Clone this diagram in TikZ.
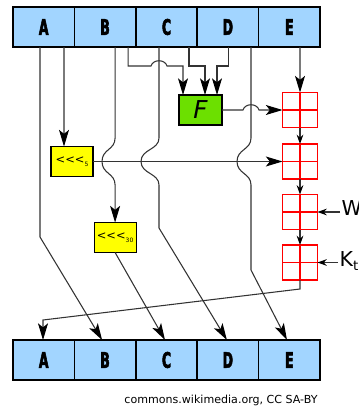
\documentclass[tikz,border=0pt]{standalone}
\usepackage{fontspec}
\setmainfont{DejaVu Sans}
\newfontfamily\regfont{DejaVu Sans}[FakeStretch=0.58, BoldFeatures={FakeBold=2.5}]
\usetikzlibrary{arrows.meta, positioning, calc}
\definecolor{regblue}{HTML}{A2D5FF}
\definecolor{fgreen}{HTML}{6CE000}
\definecolor{rotyellow}{HTML}{FFFF00}

\begin{document}
\begin{tikzpicture}[x=0.75pt, y=-0.75pt,
  reg/.style={rectangle, draw, line width=1.1pt, fill=regblue, minimum width=46.05pt, minimum height=30pt, outer sep=0pt, inner sep=0pt, font=\regfont\bfseries\fontsize{16pt}{17pt}\selectfont},
  fbox/.style={rectangle, draw, line width=0.9pt, fill=fgreen, minimum width=32.25pt, minimum height=22.5pt, outer sep=0pt, font=\itshape\fontsize{18.5pt}{19pt}\selectfont},
  rotbox/.style={rectangle, draw, line width=0.9pt, fill=rotyellow, minimum width=31.5pt, minimum height=22.5pt, outer sep=0pt, inner sep=0pt, font=\fontsize{8.6pt}{9pt}\selectfont},
  adder/.style={rectangle, draw=red, line width=1.3pt, fill=white, minimum size=26.25pt, outer sep=0pt,
    path picture={\draw[red, line width=1.3pt] (path picture bounding box.north) -- (path picture bounding box.south)
      (path picture bounding box.west) -- (path picture bounding box.east);}},
  lbl/.style={inner sep=1pt, font=\fontsize{15.4pt}{16pt}\selectfont},
  conn/.style={draw=black!80, line width=0.8pt},
  barrow/.style={conn, -{Stealth[length=12.5pt, width=7.5pt, inset=3pt, color=black]}},
  sarrow/.style={conn, -{Stealth[length=7pt, width=5pt, color=black]}}
]
  \useasboundingbox (0,0) rectangle (358,407);

  % registers before the round
  \node[reg] (tA) at (43.7,27) {A};
  \node[reg, right=0pt of tA] (tB) {B};
  \node[reg, right=0pt of tB] (tC) {C};
  \node[reg, right=0pt of tC] (tD) {D};
  \node[reg, right=0pt of tD] (tE) {E};

  % registers after the round
  \node[reg] (bA) at (43.7,360) {A};
  \node[reg, right=0pt of bA] (bB) {B};
  \node[reg, right=0pt of bB] (bC) {C};
  \node[reg, right=0pt of bC] (bD) {D};
  \node[reg, right=0pt of bD] (bE) {E};

  \node[fbox] (F) at (200.5,110) {F};
  \node[rotbox] (rot5) at (72,161.5) {<{}<{}<\raisebox{-2pt}{\fontsize{4.5pt}{5pt}\selectfont 5}};
  \node[rotbox] (rot30) at (115.1,237.5) {<{}<{}<\raisebox{-2pt}{\fontsize{4.5pt}{5pt}\selectfont 30}};

  \node[adder] (add1) at (300,110) {};
  \node[adder] (add2) at (300,161.5) {};
  \node[adder] (add3) at (300,212) {};
  \node[adder] (add4) at (300,262.5) {};

  \node[lbl, anchor=west] (Wt) at (340,210) {W\raisebox{-2.5pt}{\fontsize{10pt}{10pt}\selectfont t}};
  \node[lbl, anchor=west] (Kt) at (338,261) {K\raisebox{-2.5pt}{\fontsize{10pt}{10pt}\selectfont t}};

  \node[font=\fontsize{8.3pt}{9pt}\selectfont] (credit) at (221,400) {commons.wikimedia.org, CC SA-BY};

  % A
  \draw[barrow] ($(tA.south)+(-3.7,0)$) -- (40,237) -- ($(bB.north)+(-3,0)$);
  \draw[barrow] ($(tA.south)+(20.3,0)$) -- ($(rot5.north)+(-8,0)$);
  % B
  \draw[barrow] ($(tB.south)+(10,0)$) -- (115.1,138) .. controls (115.1,150) and (102,149) .. (102,161.5)
    .. controls (102,174) and (115.1,173) .. (115.1,185) -- (rot30.north);
  \draw[barrow] ($(tB.south)+(23,0)$) |- (151,66) .. controls (153,59) and (165,59) .. (167,66) -| ($(F.north)+(-17.5,0)$);
  \draw[barrow] (rot30.south) -- ($(bC.north)+(-1.5,0)$);
  % C
  \draw[barrow] ($(tC.south)+(-7.5,0)$) -- (159,138) .. controls (159,150) and (141,149) .. (141,161.5)
    .. controls (141,174) and (159,173) .. (159,185) -- (159,228) -- ($(bD.north)+(-1,0)$);
  \draw[barrow] ($(tC.south)+(22.5,0)$) |- (205,66) -- ($(F.north)+(4.5,0)$);
  % D
  \draw[barrow] ($(tD.south)+(1,0)$) |- (217,66) -- ($(F.north)+(16.5,0)$);
  \draw[barrow] ($(tD.south)+(23.1,0)$) -- (251,138) .. controls (251,150) and (237,149) .. (237,161.5)
    .. controls (237,174) and (251,173) .. (251,185) -- (251,270) -- ($(bE.north)+(-2.3,0)$);
  % E
  \draw[barrow] ($(tE.south)+(10.7,0)$) -- (add1.north);

  \draw[barrow] (F.east) -- (243,110) .. controls (245,103) and (257,103) .. (259,110) -- (add1.west);
  \draw[barrow] (rot5.east) -- (rot5.east -| add2.west);
  \draw[sarrow] (add1.south) -- (add2.north);
  \draw[sarrow] (add2.south) -- (add3.north);
  \draw[sarrow] (add3.south) -- (add4.north);
  \draw[sarrow] (add3.east -| Wt.west) -- (add3.east);
  \draw[sarrow] (add4.east -| Kt.west) -- (add4.east);
  \draw[barrow] (add4.south) -- ++(0,9) -- ($(bA.north)+(-0.7,-20)$) -- ($(bA.north)+(-0.7,0)$);
\end{tikzpicture}
\end{document}
